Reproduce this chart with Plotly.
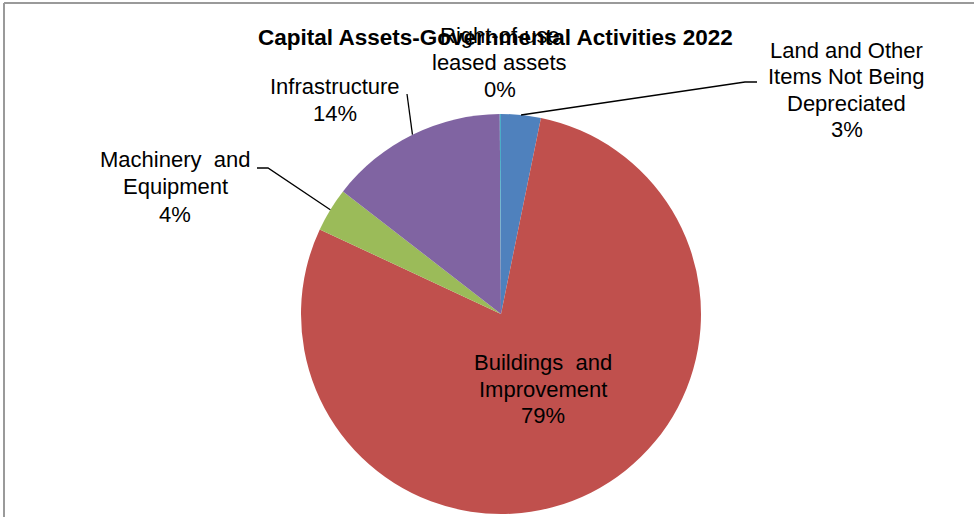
import math
import plotly.graph_objects as go

# Capital asset categories (clockwise from 12 o'clock) and their shares
categories = [
    "Land and Other Items Not Being Depreciated",
    "Buildings and Improvement",
    "Machinery and Equipment",
    "Infrastructure",
    "Right-of-use leased assets",
]
label_lines = [
    ["Land and Other", "Items Not Being", "Depreciated"],
    ["Buildings  and", "Improvement"],
    ["Machinery  and", "Equipment"],
    ["Infrastructure"],
    ["Right-of-use", "leased assets"],
]
values = [3.2, 78.75, 3.55, 14.4, 0.1]
colors = ["#4F81BD", "#C0504D", "#9BBB59", "#8064A2", "#4BACC6"]
title_text = "Capital Assets-Governmental Activities 2022"

W, H = 974, 517
FONT = "Liberation Sans, Arial, sans-serif"
LABEL_SIZE = 22
TITLE_SIZE = 22.5


def px(x):
    return x / W


def py(y):
    return 1 - y / H


# pie placement (pixels)
pie_left, pie_right, pie_top, pie_bottom = 301, 701, 114, 514
cx = (pie_left + pie_right) / 2
cy = (pie_top + pie_bottom) / 2
r = (pie_right - pie_left) / 2

total = sum(values)
pcts = [round(v / total * 100) for v in values]

# mid-angle of each slice, degrees clockwise from 12 o'clock
mid_angles = []
acc = 0.0
for v in values:
    span = v / total * 360
    mid_angles.append(acc + span / 2)
    acc += span


def edge_point(i):
    a = math.radians(mid_angles[i])
    return cx + r * math.sin(a), cy - r * math.cos(a)


fig = go.Figure(
    go.Pie(
        labels=categories,
        values=values,
        sort=False,
        direction="clockwise",
        rotation=0,
        marker=dict(colors=colors, line=dict(width=0)),
        textinfo="none",
        hoverinfo="label+percent",
        showlegend=False,
        domain=dict(x=[px(pie_left), px(pie_right)], y=[py(pie_bottom), py(pie_top)]),
    )
)

# label placement: block centre x and the baseline of each line (pixels)
label_layout = [
    (846.5, [58, 84.5, 111, 137.5]),
    (543, [370, 396.8, 423.6]),
    (175, [167.3, 194.5, 221.7]),
    (334.5, [94, 121]),
    (500, [43.5, 70, 96.7]),
]


def baseline_to_mid(b, size):
    return b - 0.3465 * size


annotations = []
for i, (lx, baselines) in enumerate(label_layout):
    lines = label_lines[i] + [f"{pcts[i]}%"]
    for text, b in zip(lines, baselines):
        annotations.append(dict(
            x=px(lx), y=py(baseline_to_mid(b, LABEL_SIZE)), xref="paper", yref="paper",
            text=text, showarrow=False, xanchor="center", yanchor="middle",
            font=dict(family=FONT, size=LABEL_SIZE, color="#000000"),
        ))

annotations.append(dict(
    x=px(495), y=py(baseline_to_mid(45, TITLE_SIZE)), xref="paper", yref="paper",
    text=f"<b>{title_text}</b>", showarrow=False, xanchor="center", yanchor="middle",
    font=dict(family=FONT, size=TITLE_SIZE, color="#000000"),
))

# leader lines: slice edge -> elbow -> label
leader_ends = {
    0: [(745, 82), (757, 82)],
    2: [(268, 168), (257, 168)],
    3: [(407, 94)],
}
shapes = []
for i, pts in leader_ends.items():
    ex, ey = edge_point(i)
    path = f"M {px(ex)},{py(ey)}"
    for (x, y) in pts:
        path += f" L {px(x)},{py(y)}"
    shapes.append(dict(type="path", xref="paper", yref="paper", path=path,
                       line=dict(color="#000000", width=1.3)))

# chart area frame (top and left edges)
shapes.append(dict(type="line", xref="paper", yref="paper",
                   x0=px(4), y0=py(3), x1=1.0, y1=py(3),
                   line=dict(color="#9a9a9a", width=2)))
shapes.append(dict(type="line", xref="paper", yref="paper",
                   x0=px(4), y0=py(3), x1=px(4), y1=0.0,
                   line=dict(color="#9a9a9a", width=2)))

fig.update_layout(
    width=W, height=H,
    margin=dict(l=0, r=0, t=0, b=0),
    paper_bgcolor="#ffffff",
    plot_bgcolor="#ffffff",
    annotations=annotations,
    shapes=shapes,
)

fig.write_html("out.html")
